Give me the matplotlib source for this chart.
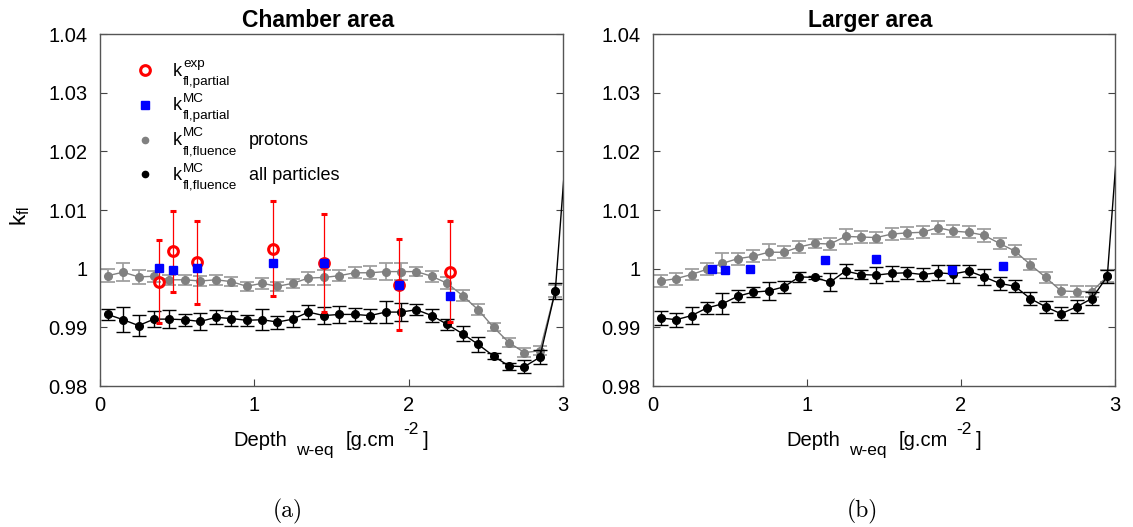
import numpy as np
import matplotlib
matplotlib.use('Agg')
import matplotlib.pyplot as plt
from matplotlib.lines import Line2D
from matplotlib.ticker import FormatStrFormatter

plt.rcParams['font.family'] = 'Liberation Sans'
plt.rcParams['mathtext.fontset'] = 'custom'
plt.rcParams['mathtext.rm'] = 'Liberation Sans'
plt.rcParams['mathtext.it'] = 'Liberation Sans:italic'
plt.rcParams['mathtext.bf'] = 'Liberation Sans:bold'
plt.rcParams['font.size'] = 14.5

# depth positions (g/cm2), last point lies just outside the plotted range
depth = [0.05, 0.15, 0.25, 0.35, 0.45, 0.55, 0.65, 0.75, 0.85, 0.95,
         1.05, 1.15, 1.25, 1.35, 1.45, 1.55, 1.65, 1.75, 1.85, 1.95,
         2.05, 2.15, 2.25, 2.35, 2.45, 2.55, 2.65, 2.75, 2.85, 2.95]
depth_all = depth + [3.05]
depth_exp = [0.38, 0.47, 0.63, 1.12, 1.45, 1.94, 2.27]

# chamber area
ch_all = [0.9922, 0.9913, 0.9903, 0.9914, 0.9914, 0.9913, 0.9910, 0.9917, 0.9915, 0.9912,
          0.9913, 0.9909, 0.9914, 0.9926, 0.9920, 0.9922, 0.9922, 0.9920, 0.9926, 0.9926,
          0.9930, 0.9920, 0.9905, 0.9889, 0.9871, 0.9851, 0.9834, 0.9833, 0.9849, 0.9962,
          1.0310]
ch_all_err = [0.0010, 0.0021, 0.0018, 0.0014, 0.0015, 0.0010, 0.0015, 0.0012, 0.0012, 0.0009,
              0.0018, 0.0011, 0.0014, 0.0012, 0.0014, 0.0015, 0.0011, 0.0012, 0.0019, 0.0016,
              0.0009, 0.0011, 0.0009, 0.0013, 0.0013, 0.0005, 0.0006, 0.0011, 0.0012, 0.0014,
              0.0014]
ch_prot = [0.9988, 0.9994, 0.9986, 0.9987, 0.9981, 0.9981, 0.9979, 0.9981, 0.9978, 0.9970,
           0.9975, 0.9970, 0.9975, 0.9984, 0.9985, 0.9988, 0.9993, 0.9993, 0.9995, 0.9995,
           0.9995, 0.9987, 0.9975, 0.9954, 0.9930, 0.9900, 0.9874, 0.9857, 0.9860, 0.9962]
ch_prot_err = [0.0011, 0.0015, 0.0012, 0.0009, 0.0009, 0.0009, 0.0009, 0.0009, 0.0008, 0.0008,
               0.0009, 0.0008, 0.0008, 0.0011, 0.0012, 0.0009, 0.0009, 0.0011, 0.0015, 0.0014,
               0.0007, 0.0009, 0.0010, 0.0009, 0.0009, 0.0007, 0.0007, 0.0007, 0.0008, 0.0010]
ch_exp = [0.9978, 1.0030, 1.0011, 1.0034, 1.0010, 0.9973, 0.9995]
ch_exp_err = [0.0071, 0.0069, 0.0071, 0.0081, 0.0084, 0.0077, 0.0086]
ch_mc = [1.0001, 0.9997, 1.0001, 1.0010, 1.0009, 0.9972, 0.9954]

# larger area
lg_all = [0.9916, 0.9913, 0.9920, 0.9933, 0.9940, 0.9953, 0.9960, 0.9962, 0.9969, 0.9986,
          0.9985, 0.9977, 0.9996, 0.9990, 0.9989, 0.9992, 0.9993, 0.9990, 0.9993, 0.9991,
          0.9996, 0.9986, 0.9975, 0.9970, 0.9949, 0.9935, 0.9923, 0.9935, 0.9949, 0.9987,
          1.0335]
lg_all_err = [0.0012, 0.0012, 0.0015, 0.0011, 0.0018, 0.0010, 0.0009, 0.0016, 0.0010, 0.0009,
              0.0003, 0.0015, 0.0012, 0.0008, 0.0013, 0.0013, 0.0010, 0.0011, 0.0013, 0.0016,
              0.0011, 0.0013, 0.0011, 0.0010, 0.0011, 0.0010, 0.0011, 0.0011, 0.0011, 0.0011,
              0.0011]
lg_prot = [0.9979, 0.9983, 0.9990, 0.9999, 1.0009, 1.0017, 1.0021, 1.0028, 1.0028, 1.0037,
           1.0043, 1.0042, 1.0055, 1.0054, 1.0053, 1.0059, 1.0061, 1.0062, 1.0070, 1.0064,
           1.0062, 1.0057, 1.0043, 1.0030, 1.0007, 0.9985, 0.9962, 0.9961, 0.9961, 0.9987]
lg_prot_err = [0.0010, 0.0010, 0.0010, 0.0010, 0.0017, 0.0010, 0.0010, 0.0014, 0.0010, 0.0010,
               0.0008, 0.0010, 0.0013, 0.0010, 0.0010, 0.0010, 0.0010, 0.0010, 0.0011, 0.0010,
               0.0010, 0.0011, 0.0010, 0.0010, 0.0010, 0.0010, 0.0010, 0.0010, 0.0010, 0.0010]
lg_mc = [1.0000, 0.9998, 1.0000, 1.0014, 1.0016, 0.9998, 1.0004]

yticks = [0.98, 0.99, 1.0, 1.01, 1.02, 1.03, 1.04]
xticks = [0, 1, 2, 3]

W, H = 1133, 527
fig = plt.figure(figsize=(W / 100, H / 100), dpi=100)
renderer = fig.canvas.get_renderer()


def fxy(x, y):
    # pixel position (origin top-left) -> figure fraction
    return x / W, 1 - y / H


def rich_text(x, y, pieces, center=False):
    # pieces: (text, size, baseline shift in px, gap after in px)
    texts, widths = [], []
    for s, size, dy, gap in pieces:
        t = fig.text(0, 0, s, fontsize=size, va='baseline', ha='left')
        texts.append(t)
        widths.append(t.get_window_extent(renderer).width)
    total = sum(widths) + sum(p[3] for p in pieces[:-1])
    if center:
        x = x - total / 2
    for t, w, (s, size, dy, gap) in zip(texts, widths, pieces):
        t.set_position(fxy(x, y + dy))
        x += w + gap
    return x


def script_label(x, y, sup, sub, tail=None, tail_x=None):
    # k with stacked super- and subscript, optional plain text after it
    t = fig.text(*fxy(x, y), 'k', fontsize=13, va='baseline')
    xs = x + t.get_window_extent(renderer).width + 1.5
    fig.text(*fxy(xs, y - 8.5), sup, fontsize=9.7, va='baseline')
    fig.text(*fxy(xs, y + 9), sub, fontsize=9.7, va='baseline')
    if tail:
        fig.text(*fxy(tail_x, y), tail, fontsize=13, va='baseline')


def style_axes(ax, title):
    ax.set_xlim(0, 3)
    ax.set_ylim(0.98, 1.04)
    ax.set_xticks(xticks)
    ax.set_yticks(yticks)
    ax.yaxis.set_major_formatter(FormatStrFormatter('%g'))
    ax.tick_params(direction='in', length=5, width=0.8, color='#444444',
                   right=True, labelsize=14.5)
    ax.tick_params(axis='x', pad=7)
    ax.tick_params(axis='y', pad=9)
    for s in ax.spines.values():
        s.set_color('#555555')
        s.set_linewidth(1.0)
    ax.set_title(title, fontweight='bold', fontsize=16.5, pad=5, x=0.47)


def draw_mc(ax, prot, prot_err, allp, allp_err):
    ax.errorbar(depth, prot, yerr=prot_err, color='#808080', ecolor='#a0a0a0',
                marker='o', ms=5.5, lw=1.0, elinewidth=1.3, capsize=5, capthick=1.3,
                zorder=2)
    ax.errorbar(depth_all, allp, yerr=allp_err, color='black', ecolor='black',
                marker='o', ms=5.5, lw=1.0, elinewidth=1.0, capsize=5, capthick=1.0,
                zorder=3)


ax1 = fig.add_axes([100 / W, 1 - 386 / H, 463 / W, 352 / H])
ax2 = fig.add_axes([653 / W, 1 - 386 / H, 462 / W, 352 / H])

# chamber area
draw_mc(ax1, ch_prot, ch_prot_err, ch_all, ch_all_err)
ax1.errorbar(depth_exp, ch_exp, yerr=ch_exp_err, fmt='o', ms=7, mfc='none',
             mec='#ff0000', mew=2.2, ecolor='#ff0000', elinewidth=0.9,
             capsize=2.5, capthick=0.9, zorder=4)
ax1.plot(depth_exp, ch_mc, 's', color='#0000ff', ms=5.5, zorder=5)
style_axes(ax1, 'Chamber area')

# larger area
draw_mc(ax2, lg_prot, lg_prot_err, lg_all, lg_all_err)
ax2.plot(depth_exp, lg_mc, 's', color='#0000ff', ms=5.5, zorder=5)
style_axes(ax2, 'Larger area')

# y label
fig.text(*fxy(20, 216), r'$\mathrm{k}_{\mathrm{fl}}$', fontsize=16, rotation=90,
         ha='center', va='center')

# x labels, larger sub/superscripts than mathtext allows
xlabel = [('Depth', 14.5, 0, 9), ('w-eq', 12.5, 9, 12), ('[g.cm', 14.5, 0, 8),
          ('-2', 12.5, -12, 5), (']', 14.5, 0, 0)]
rich_text(331, 446.5, xlabel, center=True)
rich_text(884, 446.5, xlabel, center=True)

# legend keys and labels
keys = [
    dict(marker='o', ms=7, mfc='none', mec='#ff0000', mew=2.2),
    dict(marker='s', ms=5.5, color='#0000ff'),
    dict(marker='o', ms=4.5, color='#808080'),
    dict(marker='o', ms=4.5, color='black'),
]
sups = ['exp', 'MC', 'MC', 'MC']
subs = ['fl,partial', 'fl,partial', 'fl,fluence', 'fl,fluence']
tails = [None, None, 'protons', 'all particles']
rows = [70, 105, 139.5, 174.5]
for kw, sup, sub, tail, yr in zip(keys, sups, subs, tails, rows):
    fig.add_artist(Line2D([145 / W], [1 - yr / H], ls='none', **kw))
    script_label(172.5, yr + 5.5, sup, sub, tail, 249)

fig.text(*fxy(288, 517), '(a)', family='cmr10', fontsize=17, ha='center', va='baseline')
fig.text(*fxy(862, 517), '(b)', family='cmr10', fontsize=17, ha='center', va='baseline')

fig.savefig('out.png', dpi=100)
